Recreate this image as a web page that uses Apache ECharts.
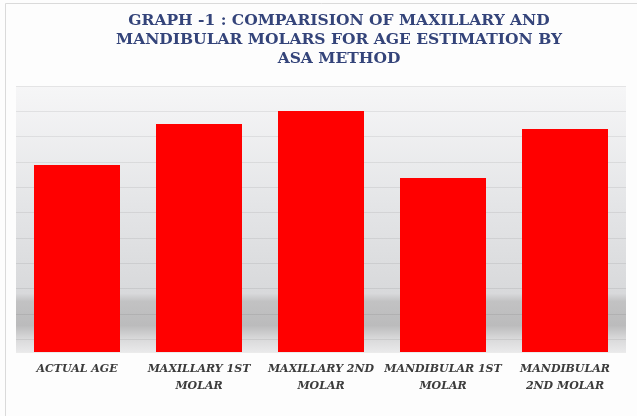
<!DOCTYPE html>
<html>
<head>
<meta charset="utf-8">
<script src="https://cdn.jsdelivr.net/npm/echarts@6/dist/echarts.min.js"></script>
<style>
html,body{margin:0;padding:0;background:#fdfdfd;}
#chart{width:637px;height:416px;}
</style>
</head>
<body>
<div id="chart"></div>
<script>
var categories = ['ACTUAL AGE', 'MAXILLARY 1ST\nMOLAR', 'MAXILLARY 2ND\nMOLAR', 'MANDIBULAR 1ST\nMOLAR', 'MANDIBULAR\n2ND MOLAR'];
var values = [7.38, 9.0, 9.51, 6.87, 8.8];
var axisMin = 0;
var axisMax = 10.5;
var gridStep = 1;

var chart = echarts.init(document.getElementById('chart'));
chart.setOption({
  backgroundColor: '#fdfdfd',
  animation: false,
  title: {
    text: 'GRAPH -1 : COMPARISION OF MAXILLARY AND\nMANDIBULAR MOLARS FOR AGE ESTIMATION BY\nASA METHOD',
    left: 334,
    textAlign: 'center',
    top: 6,
    textStyle: {
      fontFamily: 'DejaVu Serif',
      fontWeight: 'bold',
      fontSize: 15.5,
      lineHeight: 19,
      color: '#34447a'
    }
  },
  graphic: [{
    type: 'rect',
    shape: { x: 5.5, y: 3.5, width: 700, height: 500 },
    style: { fill: 'none', stroke: '#dadada', lineWidth: 1 },
    silent: true
  }],
  grid: {
    left: 16, right: 11, top: 86, bottom: 64,
    show: true,
    borderWidth: 0,
    backgroundColor: {
      type: 'linear', x: 0, y: 0, x2: 0, y2: 1,
      colorStops: [
        { offset: 0, color: '#f6f6f7' },
        { offset: 0.45, color: '#e4e5e7' },
        { offset: 0.78, color: '#d8d9db' },
        { offset: 0.81, color: '#c2c2c3' },
        { offset: 0.9, color: '#bbbbbc' },
        { offset: 0.95, color: '#d9d9da' },
        { offset: 1, color: '#e9e9ea' }
      ]
    }
  },
  xAxis: {
    type: 'category',
    data: categories,
    axisLine: { show: false },
    axisTick: { show: false },
    axisLabel: {
      interval: 0,
      margin: 9,
      fontFamily: 'DejaVu Serif',
      fontStyle: 'italic',
      fontWeight: 'bold',
      fontSize: 11,
      lineHeight: 17,
      color: '#3c3c3c'
    }
  },
  yAxis: [{
    type: 'value',
    min: axisMin,
    max: axisMax,
    interval: gridStep,
    axisLine: { show: false },
    axisTick: { show: false },
    axisLabel: { show: false },
    splitLine: { show: false }
  }, {
    type: 'value',
    inverse: true,
    min: axisMin,
    max: axisMax,
    interval: gridStep,
    axisLine: { show: false },
    axisTick: { show: false },
    axisLabel: { show: false },
    splitLine: { show: true, lineStyle: { color: 'rgba(0,0,0,0.07)', width: 1 } }
  }],
  series: [{
    type: 'bar',
    yAxisIndex: 0,
    data: values,
    barWidth: 86,
    itemStyle: { color: '#ff0000' }
  }]
});
</script>
</body>
</html>
